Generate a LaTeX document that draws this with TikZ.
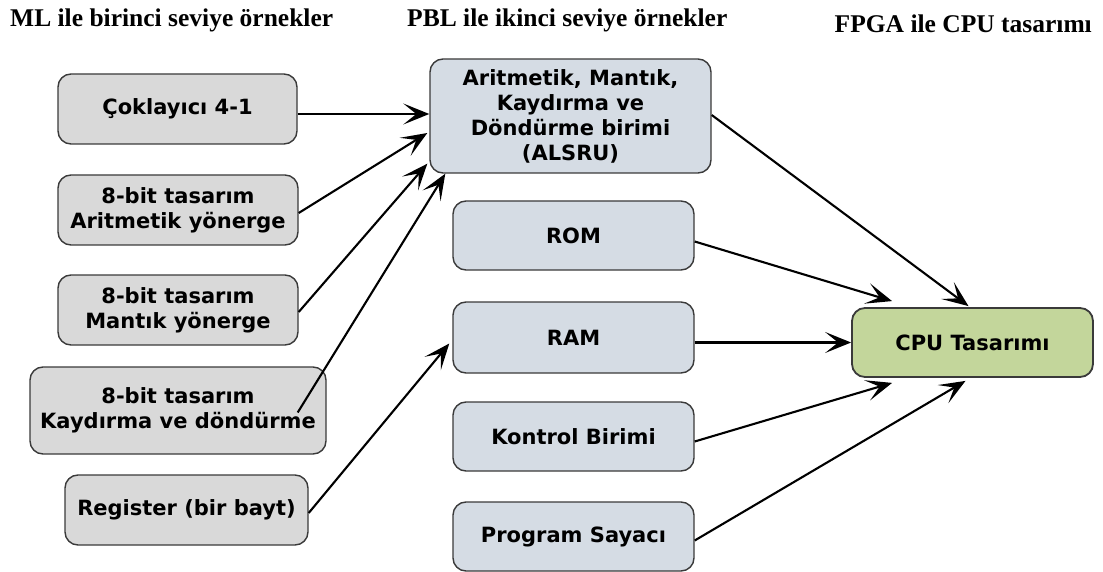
\documentclass[tikz,border=0pt]{standalone}
\usepackage{fontspec}
\setmainfont{Liberation Serif}
\newfontfamily\boxfont{DejaVu Sans}
\usetikzlibrary{arrows.meta,calc}
\definecolor{leftfill}{HTML}{D9D9D9}
\definecolor{midfill}{HTML}{D5DCE4}
\definecolor{cpufill}{HTML}{C3D69B}
\definecolor{edgecol}{HTML}{3A3A3A}
\tikzset{
  basebox/.style={draw=edgecol, line width=1.4pt, rounded corners=13pt, inner sep=0pt,
    align=center, font=\boxfont\bfseries\fontsize{21}{25}\selectfont, text=black},
  leftbox/.style={basebox, fill=leftfill},
  midbox/.style={basebox, fill=midfill},
  cpubox/.style={basebox, fill=cpufill, line width=1.8pt},
  header/.style={font=\bfseries\fontsize{25.5}{28}\selectfont, inner sep=0pt},
  arr/.style={line width=2.1pt, -{Stealth[length=26pt,width=21pt,inset=13pt]}}
}
\begin{document}
\begin{tikzpicture}[x=1pt,y=-1pt]
\useasboundingbox (0,0) rectangle (1103,572);
% headers
\node[header, anchor=base west] (h1) at (10,27) {ML ile birinci seviye örnekler};
\node[header, anchor=base west] (h2) at (407,27) {PBL ile ikinci seviye örnekler};
\node[header, anchor=base east] (h3) at (1092,33) {FPGA ile CPU tasarımı};
% left column
\node[leftbox, minimum width=239pt, minimum height=70pt] (c41) at (177.5,109) {Çoklayıcı 4-1};
\node[leftbox, minimum width=240pt, minimum height=70pt] (ari) at (178,210) {8-bit tasarım\\Aritmetik yönerge};
\node[leftbox, minimum width=240pt, minimum height=70pt] (man) at (178,310) {8-bit tasarım\\Mantık yönerge};
\node[leftbox, minimum width=296pt, minimum height=87pt] (kay) at (178,410.5) {8-bit tasarım\\Kaydırma ve döndürme};
\node[leftbox, minimum width=243pt, minimum height=70pt] (reg) at (186.5,510) {Register (bir bayt)};
% middle column
\node[midbox, minimum width=281pt, minimum height=114pt] (alsru) at (570.5,116) {Aritmetik, Mantık,\\Kaydırma ve\\Döndürme birimi\\(ALSRU)};
\node[midbox, minimum width=241pt, minimum height=69pt] (rom) at (573.5,235.5) {ROM};
\node[midbox, minimum width=241pt, minimum height=71pt] (ram) at (573.5,337.5) {RAM};
\node[midbox, minimum width=241pt, minimum height=69pt] (kon) at (573.5,436.5) {Kontrol Birimi};
\node[midbox, minimum width=241pt, minimum height=69pt] (ps) at (573.5,536.5) {Program Sayacı};
% cpu
\node[cpubox, minimum width=241pt, minimum height=69pt] (cpu) at (972.5,342.5) {CPU Tasarımı};
% arrows left -> middle
\draw[arr] ($(c41.east)+(0,5)$) -- ($(alsru.west)+(0,-2)$);
\draw[arr] ($(ari.east)+(0,3)$) -- ($(alsru.west)+(-2,17)$);
\draw[arr] ($(man.east)+(0,2)$) -- ($(alsru.south west)+(-2,-10)$);
\draw[arr] ($(kay.east)+(-29,2)$) -- ($(alsru.south west)+(16,0)$);
\draw[arr] ($(reg.east)+(0,3)$) -- ($(ram.west)+(-3,6)$);
% arrows middle -> cpu
\draw[arr] ($(alsru.east)+(0,-1)$) -- ($(cpu.north)+(-4,-1)$);
\draw[arr] ($(rom.east)+(0,6)$) -- ($(cpu.north west)+(41,-6)$);
\draw[arr] (ram.east |- cpu.west) -- (cpu.west);
\draw[arr] ($(kon.east)+(0,5)$) -- ($(cpu.south west)+(41,5)$);
\draw[arr] ($(ps.east)+(0,4)$) -- ($(cpu.south)+(-7,3)$);
\end{tikzpicture}
\end{document}
